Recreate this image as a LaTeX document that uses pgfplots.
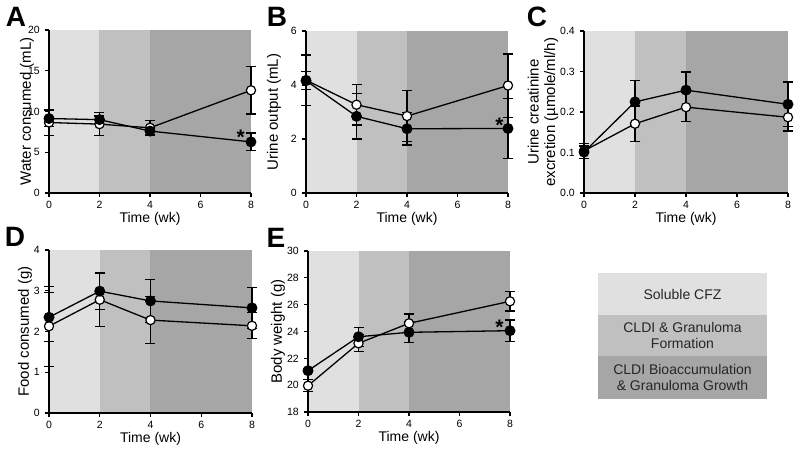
\documentclass[border=0pt]{standalone}
\usepackage{pgfplots}
\pgfplotsset{compat=1.18}
\usepackage{fontspec}
\setmainfont{Liberation Sans}
\definecolor{bgA}{gray}{0.878}
\definecolor{bgB}{gray}{0.753}
\definecolor{bgC}{gray}{0.651}
\pgfplotsset{
  panel/.style={
    scale only axis, width=202pt,
    xmin=0, xmax=8, xtick={0,2,4,6,8},
    axis x line=bottom, axis y line=left,
    axis line style={-, line width=1.3pt, black},
    tick align=outside, major tick length=4pt,
    every tick/.style={line width=1.3pt, black},
    axis on top, clip=false,
    /pgf/number format/assume math mode=true,
    ticklabel style={font=\fontsize{10.5}{12}\selectfont},
    xticklabel style={anchor=north, inner sep=0pt, yshift=-4pt},
    yticklabel style={anchor=east, inner sep=0pt, xshift=-5pt},
    xlabel={Time (wk)},
    xlabel style={font=\fontsize{14}{16}\selectfont, at={([yshift=-29pt]axis description cs:0.5,0)}, anchor=base, inner sep=0pt},
    ylabel style={font=\fontsize{15}{16.5}\selectfont, anchor=center, inner sep=0pt, align=center},
    error bars/y dir=both, error bars/y explicit,
    error bars/error mark options={rotate=90, mark size=5pt, line width=1.2pt, black},
    error bars/error bar style={line width=1.2pt, black},
  },
  openser/.style={black, line width=1.3pt, mark=*, mark size=4.6pt, mark options={fill=white, draw=black, line width=1.2pt}},
  fillser/.style={black, line width=1.3pt, mark=*, mark size=4.8pt, mark options={fill=black, draw=black}},
}
\newcommand{\phasebg}[2]{%
  \fill[bgA] (axis cs:0,#1) rectangle (axis cs:2,#2);
  \fill[bgB] (axis cs:2,#1) rectangle (axis cs:4,#2);
  \fill[bgC] (axis cs:4,#1) rectangle (axis cs:8,#2);}
\newcommand{\sigstar}[2]{\node[font=\fontsize{21}{21}\selectfont\bfseries, inner sep=0pt, yshift=-4pt] at (axis cs:#1,#2) {*};}
\begin{document}
\begin{tikzpicture}[x=1pt,y=1pt]
\path[use as bounding box] (0,0) rectangle (800,451);
% A
\begin{axis}[panel, at={(49pt,258pt)}, height=163pt, ymin=0, ymax=20, ytick={0,5,10,15,20},
  ylabel={Water consumed (mL)}, ylabel style={at={([xshift=-22pt]axis description cs:0,0.5)}}]
\phasebg{0}{20}
\addplot[openser] coordinates {(0,8.65) +- (0,1.6) (2,8.45) +- (0,1.4) (4,8.0) +- (0,0.9) (8,12.6) +- (0,2.9)};
\addplot[fillser] coordinates {(0,9.14) +- (0,1.0) (2,9.0) +- (0,0.45) (4,7.6) +- (0,0.4) (8,6.27) +- (0,1.1)};
\sigstar{7.59}{7.33}
\end{axis}
% B
\begin{axis}[panel, at={(306pt,258pt)}, height=162pt, ymin=0, ymax=6, ytick={0,2,4,6},
  ylabel={Urine output (mL)}, ylabel style={at={([xshift=-32pt]axis description cs:0,0.5)}}]
\phasebg{0}{6}
\addplot[openser] coordinates {(0,4.18) +- (0,0.93) (2,3.27) +- (0,0.75) (4,2.85) +- (0,0.95) (8,3.98) +- (0,1.17)};
\addplot[fillser] coordinates {(0,4.16) +- (0,0.34) (2,2.84) +- (0,0.84) (4,2.38) +- (0,0.6) (8,2.39) +- (0,1.1)};
\sigstar{7.66}{2.64}
\end{axis}
% C
\begin{axis}[panel, at={(584pt,258pt)}, width=204pt, height=162pt, ymin=0, ymax=0.4, ytick={0,0.1,0.2,0.3,0.4},
  yticklabel style={/pgf/number format/.cd, fixed, fixed zerofill, precision=1},
  ylabel={Urine creatinine\\excretion (µmole/ml/h)}, ylabel style={at={([xshift=-41pt]axis description cs:0,0.5)}}]
\phasebg{0}{0.4}
\addplot[openser] coordinates {(0,0.104) +- (0,0.018) (2,0.171) +- (0,0.044) (4,0.212) +- (0,0.036) (8,0.187) +- (0,0.034)};
\addplot[fillser] coordinates {(0,0.101) +- (0,0.015) (2,0.225) +- (0,0.052) (4,0.254) +- (0,0.045) (8,0.219) +- (0,0.055)};
\end{axis}
% D
\begin{axis}[panel, at={(49pt,38pt)}, width=203pt, height=163pt, ymin=0, ymax=4, ytick={0,1,2,3,4},
  ylabel={Food consumed (g)}, ylabel style={at={([xshift=-24pt]axis description cs:0,0.5)}}]
\phasebg{0}{4}
\addplot[openser] coordinates {(0,2.13) +- (0,0.98) (2,2.78) +- (0,0.65) (4,2.28) +- (0,0.58) (8,2.14) +- (0,0.32)};
\addplot[fillser] coordinates {(0,2.35) +- (0,0.6) (2,2.99) +- (0,0.45) (4,2.75) +- (0,0.53) (8,2.58) +- (0,0.5)};
\end{axis}
% E
\begin{axis}[panel, at={(308pt,39pt)}, height=161pt, ymin=18, ymax=30, ytick={18,20,22,24,26,28,30},
  ylabel={Body weight (g)}, ylabel style={at={([xshift=-30pt]axis description cs:0,0.5)}}]
\phasebg{18}{30}
\addplot[openser] coordinates {(0,19.96) +- (0,0.45) (2,23.12) +- (0,0.63) (4,24.61) +- (0,0.7) (8,26.25) +- (0,0.72)};
\addplot[fillser] coordinates {(0,21.08) +- (0,0.15) (2,23.61) +- (0,0.7) (4,23.94) +- (0,0.78) (8,24.06) +- (0,0.8)};
\sigstar{7.58}{24.6}
\end{axis}
% panel letters
\begin{scope}[every node/.style={font=\fontsize{28}{28}\selectfont\bfseries, inner sep=0pt}]
\node at (16,434) {A};
\node at (277,434) {B};
\node at (537,434) {C};
\node at (15,214) {D};
\node at (276,213) {E};
\end{scope}
% phase key
\fill[bgA] (598,136) rectangle (767,178);
\fill[bgB] (598,95) rectangle (767,136);
\fill[bgC] (598,52) rectangle (767,95);
\begin{scope}[every node/.style={font=\fontsize{14}{15.5}\selectfont, align=center, inner sep=0pt, text=black!85}]
\node at (682.5,157) {Soluble CFZ};
\node at (682.5,115.5) {CLDI \& Granuloma\\Formation};
\node at (682.5,73.5) {CLDI Bioaccumulation\\\& Granuloma Growth};
\end{scope}
\end{tikzpicture}
\end{document}
